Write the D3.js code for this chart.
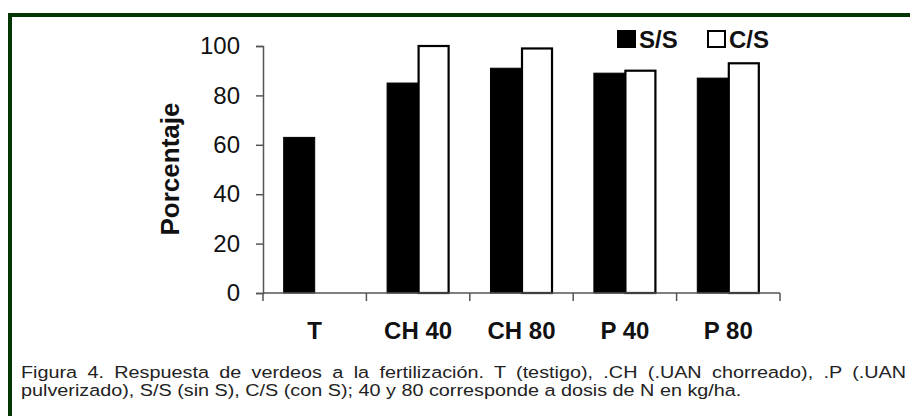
<!DOCTYPE html>
<html>
<head>
<meta charset="utf-8">
<script src="https://cdn.jsdelivr.net/npm/d3@7"></script>
<style>
  html, body { margin: 0; padding: 0; background: #ffffff; overflow: hidden; }
  svg { display: block; font-family: "Liberation Sans", Arial, sans-serif; }
</style>
</head>
<body>
<svg id="chart" width="910" height="416"></svg>
<script>
const categories = ["T", "CH 40", "CH 80", "P 40", "P 80"];
const seriesNames = ["S/S", "C/S"];
const ssValues = [63, 85, 91, 89, 87];
const csValues = [null, 100, 99, 90, 93];
const yTicks = [0, 20, 40, 60, 80, 100];
const yTitle = "Porcentaje";
const captionLine1 = "Figura 4. Respuesta de verdeos a la fertilización. T (testigo), .CH (.UAN chorreado), .P (.UAN";
const captionLine2 = "pulverizado), S/S (sin S), C/S (con S); 40 y 80 corresponde a dosis de N en kg/ha.";

const svg = d3.select("#chart");

// frame
svg.append("rect")
  .attr("x", 10).attr("y", 15)
  .attr("width", 1000).attr("height", 500)
  .attr("fill", "#ffffff")
  .attr("stroke", "#043604").attr("stroke-width", 4);

const x0 = d3.scaleBand().domain(categories).range([263, 780]).padding(0);
const x1 = d3.scaleBand().domain(seriesNames).range([0, x0.bandwidth()]).paddingInner(0).paddingOuter(0.667);
const y = d3.scaleLinear().domain([0, 100]).range([293, 46]);

const data = categories.map((c, i) => ({ cat: c, values: [
  { s: "S/S", v: ssValues[i] }, { s: "C/S", v: csValues[i] } ] }));

// y axis
const yAxis = d3.axisLeft(y).tickValues(yTicks).tickSize(7).tickSizeOuter(7).tickPadding(16);
const gy = svg.append("g").attr("transform", "translate(263,0)").call(yAxis);
gy.select(".domain").attr("stroke", "#555").attr("stroke-width", 1.5);
gy.selectAll(".tick line").attr("stroke", "#555").attr("stroke-width", 1.5);
gy.selectAll(".tick text").attr("font-size", 24).attr("fill", "#111")
  .attr("font-family", "Liberation Sans, Arial, sans-serif");

// bars
const groups = svg.append("g").selectAll("g").data(data).join("g")
  .attr("transform", d => `translate(${x0(d.cat)},0)`);
groups.selectAll("rect").data(d => d.values.filter(e => e.v != null)).join("rect")
  .attr("x", d => x1(d.s) + (d.s === "C/S" ? 0.5 : 0))
  .attr("width", d => x1.bandwidth() - (d.s === "C/S" ? 1 : 0))
  .attr("y", d => y(d.v))
  .attr("height", d => y(0) - y(d.v))
  .attr("fill", d => d.s === "S/S" ? "#000" : "#fff")
  .attr("stroke", "#000")
  .attr("stroke-width", d => d.s === "S/S" ? 1 : 2.2);

// x axis
const gx = svg.append("g");
gx.append("line").attr("x1", 263).attr("x2", 780).attr("y1", y(0)).attr("y2", y(0))
  .attr("stroke", "#555").attr("stroke-width", 1.5);
const boundaries = categories.map(c => x0(c)).concat([x0.range()[1]]);
gx.selectAll("line.tk").data(boundaries).join("line").attr("class", "tk")
  .attr("x1", d => d).attr("x2", d => d)
  .attr("y1", y(0)).attr("y2", y(0) + 8)
  .attr("stroke", "#555").attr("stroke-width", 1.5);
gx.selectAll("text").data(categories).join("text")
  .attr("x", d => x0(d) + x0.bandwidth() / 2)
  .attr("y", 339)
  .attr("text-anchor", "middle")
  .attr("font-size", 24).attr("font-weight", "bold").attr("fill", "#111")
  .text(d => d);

// y title
svg.append("text")
  .attr("transform", "translate(179,169) rotate(-90)")
  .attr("text-anchor", "middle")
  .attr("font-size", 26).attr("font-weight", "bold").attr("fill", "#111")
  .text(yTitle);

// legend
const legendPos = [617, 707];
const leg = svg.append("g").selectAll("g").data(seriesNames).join("g")
  .attr("transform", (d, i) => `translate(${legendPos[i]},30)`);
leg.append("rect")
  .attr("x", (d, i) => i === 0 ? 0 : 1).attr("y", (d, i) => i === 0 ? 0 : 1)
  .attr("width", (d, i) => i === 0 ? 19 : 17).attr("height", (d, i) => i === 0 ? 18 : 16)
  .attr("fill", (d, i) => i === 0 ? "#000" : "#fff")
  .attr("stroke", "#000").attr("stroke-width", (d, i) => i === 0 ? 0 : 2);
leg.append("text")
  .attr("x", 22).attr("y", 17.5)
  .attr("font-size", 24).attr("font-weight", "bold").attr("fill", "#111")
  .text(d => d);

// caption
const capLeft = 21;
const capSize = 17;
const cap2 = svg.append("text").attr("font-size", capSize).attr("fill", "#222")
  .attr("y", 396).text(captionLine2);
const nat2 = cap2.node().getComputedTextLength();
const sx = 721 / nat2;
cap2.attr("transform", `translate(${capLeft},0) scale(${sx},1)`).attr("x", 0);

const words1 = captionLine1.split(" ");
const head = words1.slice(0, -1).join(" ") + " ";
const tmp = svg.append("text").attr("font-size", capSize).attr("xml:space", "preserve").text(head);
const headW = tmp.node().getComputedTextLength();
tmp.remove();
const targetLastStart = (853 - capLeft) / sx;
const ws = (targetLastStart - headW) / (words1.length - 1);
svg.append("text").attr("font-size", capSize).attr("fill", "#222")
  .attr("y", 378).attr("x", 0)
  .attr("word-spacing", ws)
  .attr("transform", `translate(${capLeft},0) scale(${sx},1)`)
  .text(captionLine1);
</script>
</body>
</html>
